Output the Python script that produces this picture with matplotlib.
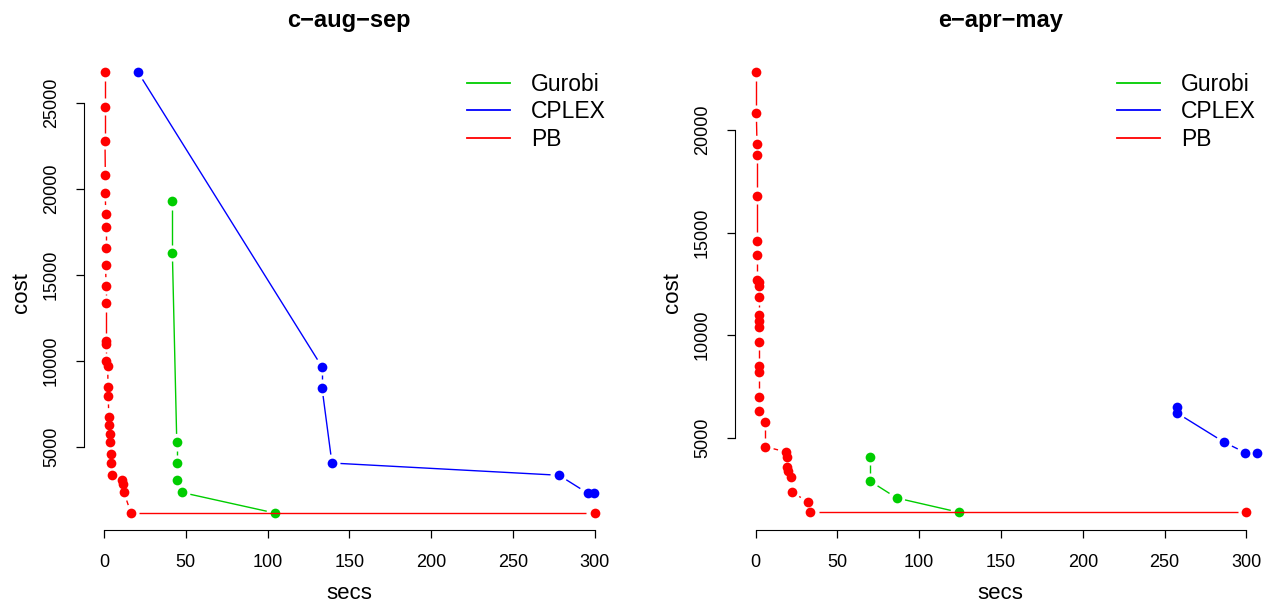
import numpy as np
import matplotlib
matplotlib.use("Agg")
import matplotlib.pyplot as plt
from matplotlib.lines import Line2D

plt.rcParams['font.family'] = ['Liberation Sans', 'DejaVu Sans']

# left panel: c-aug-sep
c_pb_secs = [0.6, 0.6, 0.6, 0.8, 0.8, 1.0, 1.0, 1.0, 1.0, 1.2, 1.2, 1.2, 1.4, 1.4,
             2.3, 2.4, 2.6, 2.9, 3.1, 3.7, 3.9, 4.1, 4.1, 4.9, 11.2, 11.8, 12.2, 16.5, 300]
c_pb_cost = [26771, 24767, 22769, 20770, 19757, 18556, 17758, 16552, 15544, 14362, 13348,
             11134, 10983, 9969, 9678, 8454, 7953, 6747, 6241, 5740, 5250, 4551, 4050,
             3351, 3036, 2844, 2337, 1137, 1137]
c_gurobi_secs = [41.8, 41.8, 44.5, 44.5, 44.5, 47.7, 104.6]
c_gurobi_cost = [19273, 16261, 5250, 4050, 3036, 2337, 1140]
c_cplex_secs = [20.8, 133.3, 133.3, 139.4, 278.3, 295.7, 299.7]
c_cplex_cost = [26771, 9643, 8437, 4050, 3339, 2302, 2302]

# right panel: e-apr-may
e_pb_secs = [0.5, 0.5, 0.9, 0.9, 0.9, 0.9, 0.9, 0.9, 2.3, 2.3, 2.3, 2.3, 2.3, 2.3, 2.3,
             2.3, 2.3, 2.3, 2.3, 6.0, 6.0, 18.8, 19.3, 19.3, 19.9, 21.9, 22.3, 32.1, 33.5, 300]
e_pb_cost = [22813, 20814, 19303, 18796, 16797, 14589, 13891, 12688, 12575, 12395, 11874,
             10981, 10703, 10381, 9679, 8495, 8188, 6984, 6286, 5779, 4561, 4303, 4044,
             3586, 3376, 3069, 2353, 1865, 1363, 1363]
e_gurobi_secs = [70.2, 70.2, 86.3, 124.4]
e_gurobi_cost = [4073, 2874, 2060, 1363]
e_cplex_secs = [257.6, 257.6, 286.5, 299.4, 306.4]
e_cplex_cost = [6496, 6204, 4775, 4268, 4268]

solvers = ['Gurobi', 'CPLEX', 'PB']
colors = ['#00CD00', '#0000FF', '#FF0000']

W, H = 1266, 605
fig = plt.figure(figsize=(W / 100, H / 100), dpi=100)


def add_axes(x0, x1, y0, y1):
    # pixel box -> figure fraction
    return fig.add_axes([x0 / W, 1 - y1 / H, (x1 - x0) / W, (y1 - y0) / H])


def gapped(ax, xs, ys, color, gap=8.5):
    # R type="b": lines stop short of each point
    pts = ax.transData.transform(np.column_stack([xs, ys]))
    inv = ax.transData.inverted()
    for p0, p1 in zip(pts[:-1], pts[1:]):
        d = p1 - p0
        L = np.hypot(d[0], d[1])
        if L <= 2 * gap:
            continue
        u = d / L
        seg = inv.transform(np.array([p0 + gap * u, p1 - gap * u]))
        ax.plot(seg[:, 0], seg[:, 1], color=color, lw=1, solid_capstyle='butt')
    ax.plot(xs, ys, 'o', color=color, ms=7, mew=0)


def style(ax, title, yticks, legend_x):
    for s in ['top', 'right']:
        ax.spines[s].set_visible(False)
    ax.spines['bottom'].set_bounds(0, 300)
    ax.spines['left'].set_bounds(yticks[0], yticks[-1])
    ax.set_xticks([0, 50, 100, 150, 200, 250, 300])
    ax.set_yticks(yticks)
    ax.set_yticklabels([str(t) for t in yticks], rotation=90, va='center')
    ax.tick_params(axis='both', length=5.5, width=0.9, labelsize=13)
    ax.tick_params(axis='x', pad=12)
    ax.tick_params(axis='y', pad=12)
    ax.set_xlabel('secs', fontsize=16)
    ax.xaxis.set_label_coords(0.5, -0.133)
    ax.xaxis.label.set_va('center')
    ax.set_ylabel('cost', fontsize=16)
    ax.yaxis.set_label_coords(-0.118, 0.5)
    ax.yaxis.label.set_va('center')
    ax.set_title(title, fontsize=17, fontweight='bold', y=1.073, va='center', pad=0)
    handles = [Line2D([0], [0], color=c, lw=1.3) for c in colors]
    ax.legend(handles, solvers, loc='upper left', frameon=False, fontsize=16.5,
              handlelength=1.88, handletextpad=0.92, labelspacing=0.19,
              borderpad=0, borderaxespad=0,
              bbox_to_anchor=(legend_x / W, 1 - 73 / H), bbox_transform=fig.transFigure)


# left panel
ax1 = add_axes(84.4, 614, 54.7, 529.9)
ax1.set_xlim(-12.0, 311.9)
ax1.set_ylim(162, 27791)
gapped(ax1, c_gurobi_secs, c_gurobi_cost, colors[0])
gapped(ax1, c_cplex_secs, c_cplex_cost, colors[1])
gapped(ax1, c_pb_secs, c_pb_cost, colors[2])
style(ax1, 'c\u2212aug\u2212sep', [5000, 10000, 15000, 20000, 25000], 467)

# right panel
ax2 = add_axes(735.4, 1266, 54.7, 529.9)
ax2.set_xlim(-12.3, 312.0)
ax2.set_ylim(505, 23671)
gapped(ax2, e_gurobi_secs, e_gurobi_cost, colors[0])
gapped(ax2, e_cplex_secs, e_cplex_cost, colors[1])
gapped(ax2, e_pb_secs, e_pb_cost, colors[2])
style(ax2, 'e\u2212apr\u2212may', [5000, 10000, 15000, 20000], 1117)

fig.savefig('out.png', dpi=100)
